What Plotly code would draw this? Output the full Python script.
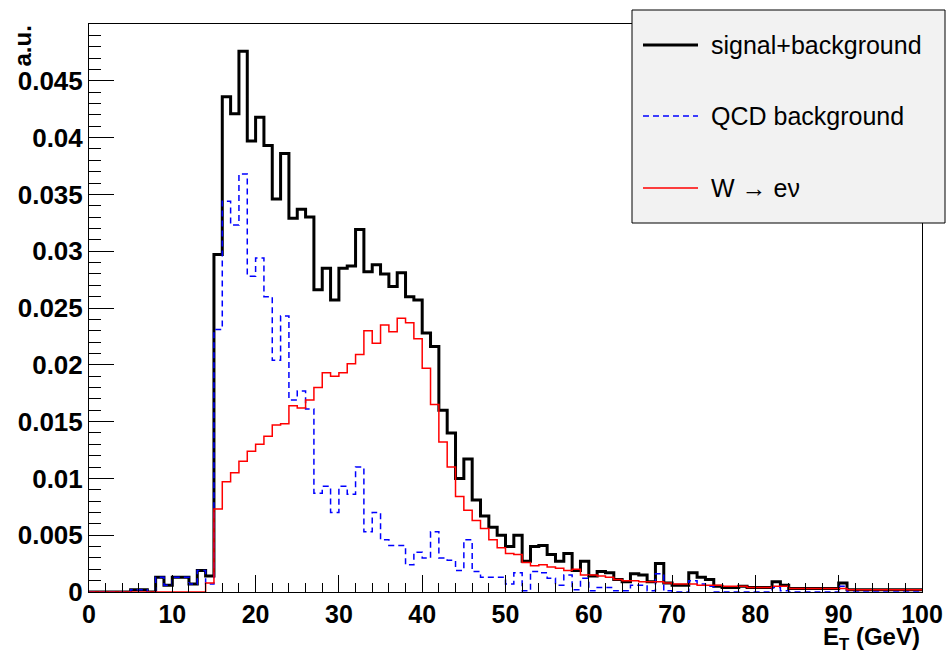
import plotly.graph_objects as go

# ---- data (1 GeV bins from 0 to 100 GeV) ----
bin_edges = list(range(0, 101))

sig_plus_bkg = [
    0, 0, 0, 0, 0, 0.0002, 0.0002, 0, 0.0013, 0.0006,
    0.0013, 0.0013, 0.0007, 0.0019, 0.0014, 0.0297, 0.0436, 0.0421, 0.0476, 0.0397,
    0.0418, 0.0393, 0.0346, 0.0386, 0.0329, 0.0337, 0.0330, 0.0266, 0.0285, 0.0257,
    0.0285, 0.0287, 0.0319, 0.0282, 0.0288, 0.0280, 0.0269, 0.0281, 0.0260, 0.0257,
    0.0228, 0.0216, 0.0160, 0.0140, 0.0100, 0.0117, 0.0081, 0.0067, 0.0057, 0.0050,
    0.0040, 0.0050, 0.0027, 0.0040, 0.0041, 0.0033, 0.0027, 0.0034, 0.0019, 0.0027,
    0.0014, 0.0018, 0.0017, 0.0011, 0.0009, 0.0016, 0.0015, 0.0009, 0.0025, 0.0008,
    0.0006, 0.0006, 0.0017, 0.0013, 0.0011, 0.0005, 0.0004, 0.0004, 0.0005, 0.0004,
    0.0004, 0.0004, 0.0009, 0.0006, 0.0003, 0.0003, 0.0003, 0.0003, 0.0003, 0.0003,
    0.0008, 0.0002, 0.0002, 0.0002, 0.0002, 0.0002, 0.0002, 0.0002, 0.0002, 0.0002,
]

qcd_background = [
    0, 0, 0, 0, 0, 0.0002, 0.0002, 0, 0.0013, 0.0006,
    0.0013, 0.0013, 0.0007, 0.0019, 0.0007, 0.0231, 0.0344, 0.0323, 0.0368, 0.0278,
    0.0294, 0.0260, 0.0204, 0.0243, 0.0169, 0.0177, 0.0161, 0.0087, 0.0093, 0.0070,
    0.0093, 0.0086, 0.0110, 0.0053, 0.0070, 0.0046, 0.0041, 0.0041, 0.0024, 0.0035,
    0.0030, 0.0053, 0.0030, 0.0028, 0.0019, 0.0046, 0.0018, 0.0013, 0.0013, 0.0013,
    0.0007, 0.0017, 0.0001, 0.0018, 0.0017, 0.0012, 0.0006, 0.0015, 0.0002, 0.0012,
    0.0001, 0.0004, 0.0004, 0.0001, 0.0001, 0.0006, 0.0006, 0.0001, 0.0016, 0.0001,
    0, 0, 0.0010, 0.0007, 0.0005, 0, 0, 0, 0, 0,
    0, 0, 0.0004, 0.0001, 0, 0, 0, 0, 0, 0,
    0.0005, 0, 0, 0, 0, 0, 0, 0, 0, 0,
]

w_to_enu = [
    0, 0, 0, 0, 0, 0, 0, 0, 0, 0,
    0, 0, 0, 0, 0.0008, 0.0073, 0.0097, 0.0105, 0.0115, 0.0124,
    0.0130, 0.0137, 0.0147, 0.0148, 0.0164, 0.0162, 0.0169, 0.0180, 0.0193, 0.0190,
    0.0193, 0.0201, 0.0209, 0.0230, 0.0219, 0.0235, 0.0229, 0.0241, 0.0237, 0.0223,
    0.0197, 0.0165, 0.0132, 0.0110, 0.0084, 0.0072, 0.0063, 0.0056, 0.0046, 0.0039,
    0.0034, 0.0033, 0.0026, 0.0023, 0.0024, 0.0022, 0.0021, 0.0019, 0.0020, 0.0015,
    0.0015, 0.0014, 0.0013, 0.0011, 0.0010, 0.0010, 0.0009, 0.0009, 0.0009, 0.0008,
    0.0007, 0.0007, 0.0007, 0.0006, 0.0006, 0.0006, 0.0005, 0.0005, 0.0005, 0.0004,
    0.0004, 0.0004, 0.0005, 0.0005, 0.0003, 0.0003, 0.0003, 0.0003, 0.0003, 0.0003,
    0.0003, 0.0002, 0.0002, 0.0002, 0.0002, 0.0002, 0.0002, 0.0002, 0.0002, 0.0002,
]

series_names = ["signal+background", "QCD background", "W \u2192 e\u03bd"]

x_tickvals = [0, 10, 20, 30, 40, 50, 60, 70, 80, 90, 100]
x_ticktext = ["0", "10", "20", "30", "40", "50", "60", "70", "80", "90", "100"]
y_tickvals = [0, 0.005, 0.01, 0.015, 0.02, 0.025, 0.03, 0.035, 0.04, 0.045]
y_ticktext = ["0", "0.005", "0.01", "0.015", "0.02", "0.025", "0.03", "0.035", "0.04", "0.045"]

# ---- figure ----
FONT = "Liberation Sans"


def step(vals):
    return vals + [vals[-1]]


fig = go.Figure()
fig.add_trace(go.Scatter(x=bin_edges, y=step(sig_plus_bkg), mode="lines", line_shape="hv",
                         line=dict(color="black", width=3), name=series_names[0]))
fig.add_trace(go.Scatter(x=bin_edges, y=step(qcd_background), mode="lines", line_shape="hv",
                         line=dict(color="#0000ff", width=1.5, dash="6px,4px"), name=series_names[1]))
fig.add_trace(go.Scatter(x=bin_edges, y=step(w_to_enu), mode="lines", line_shape="hv",
                         line=dict(color="#ff0000", width=1.5), name=series_names[2]))

xtickfont = dict(family=FONT, size=25, color="black", weight="bold")
ytickfont = dict(family=FONT, size=26, color="black", weight="bold")

# the page body margin is removed (post_script), so the figure fills the 947x651 window
fig.update_layout(
    width=947, height=651,
    margin=dict(l=89, r=25, t=24, b=59, autoexpand=False),
    plot_bgcolor="white", paper_bgcolor="white",
    showlegend=False,
)
fig.update_xaxes(
    range=[0, 100], showline=True, linecolor="black", linewidth=1, mirror=True,
    showgrid=False, zeroline=False, automargin=False,
    tickmode="array", tickvals=x_tickvals, ticktext=x_ticktext,
    ticks="inside", ticklen=17, tickwidth=1, tickcolor="black", tickfont=xtickfont,
    minor=dict(tickmode="linear", tick0=0, dtick=2, ticks="inside", ticklen=9,
               tickwidth=1, tickcolor="black", showgrid=False),
)
fig.update_yaxes(
    range=[0, 0.05], showline=True, linecolor="black", linewidth=1, mirror=True,
    showgrid=False, zeroline=False, automargin=False,
    tickmode="array", tickvals=y_tickvals, ticktext=y_ticktext,
    ticks="inside", ticklen=25, tickwidth=1, tickcolor="black", tickfont=ytickfont,
    minor=dict(tickmode="linear", tick0=0, dtick=0.001, ticks="inside", ticklen=12,
               tickwidth=1, tickcolor="black", showgrid=False),
)

PX0, PW, PY0, PH = 89, 833, 592, 568


def px(x):
    return (x - PX0) / PW


def py(y):
    return (PY0 - y) / PH


# axis titles
fig.add_annotation(text="E<sub>T</sub> (GeV)", xref="paper", yref="paper", x=1.0, y=py(621),
                   xanchor="right", yanchor="top", showarrow=False,
                   font=dict(family=FONT, size=24, color="black", weight="bold"))
fig.add_annotation(text="a.u.", xref="paper", yref="paper", x=px(22), y=1.0,
                   xanchor="center", yanchor="top", textangle=-90, showarrow=False,
                   font=dict(family=FONT, size=24, color="black", weight="bold"))

# legend box (drawn manually to match the ROOT layout)
fig.add_shape(type="rect", xref="paper", yref="paper", x0=px(632), x1=px(945), y0=py(223), y1=py(10),
              line=dict(color="black", width=1), fillcolor="#f2f2f2", layer="above")
legend_styles = [
    dict(color="black", width=3),
    dict(color="#0000ff", width=1.5, dash="6px,4px"),
    dict(color="#ff0000", width=1.5),
]
legend_y = [45, 116, 188]
for name, style, yy in zip(series_names, legend_styles, legend_y):
    fig.add_shape(type="line", xref="paper", yref="paper", x0=px(643), x1=px(698), y0=py(yy), y1=py(yy),
                  line=style, layer="above")
    fig.add_annotation(text=name, xref="paper", yref="paper", x=px(709), y=py(yy),
                       xanchor="left", yanchor="middle", showarrow=False,
                       font=dict(family=FONT, size=25, color="black"))

fig.write_html(
    "out.html",
    config={"displayModeBar": False},
    post_script="document.body.style.margin='0';document.body.style.overflow='hidden';",
)
